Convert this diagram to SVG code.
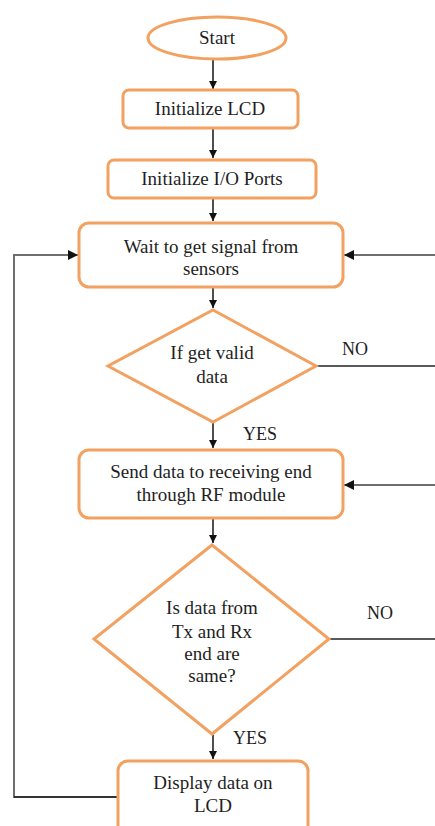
<svg xmlns="http://www.w3.org/2000/svg" width="435" height="826" viewBox="0 0 435 826">
  <defs>
    <style>
      .shape { fill: #ffffff; stroke: #f2a160; stroke-width: 3; }
      .label { font-family: "Liberation Serif", "DejaVu Serif", "Times New Roman", serif; font-size: 19px; fill: #1e1e1e; text-anchor: middle; }
      .tag { font-family: "Liberation Serif", "DejaVu Serif", "Times New Roman", serif; font-size: 18px; fill: #1e1e1e; }
      .flow { fill: none; stroke: #222222; stroke-width: 1.6; }
      .loop { fill: none; stroke: #6e6e6e; stroke-width: 2; }
    </style>
    <marker id="arrow" viewBox="0 0 10 10" refX="10" refY="5" markerWidth="8" markerHeight="8" orient="auto" markerUnits="userSpaceOnUse">
      <path d="M0,0 L10,5 L0,10 z" fill="#111111"/>
    </marker>
    <marker id="arrowL" viewBox="0 0 10 10" refX="10" refY="5" markerWidth="11" markerHeight="10" orient="auto" markerUnits="userSpaceOnUse">
      <path d="M0,0 L10,5 L0,10 z" fill="#111111"/>
    </marker>
  </defs>

  <rect width="435" height="826" fill="#ffffff"/>

  <g id="connectors">
    <line class="flow" x1="213" y1="60" x2="213" y2="89" marker-end="url(#arrow)"/>
    <line class="flow" x1="213" y1="129" x2="213" y2="158" marker-end="url(#arrow)"/>
    <line class="flow" x1="213" y1="199" x2="213" y2="221" marker-end="url(#arrow)"/>
    <line class="flow" x1="213" y1="288" x2="213" y2="308" marker-end="url(#arrow)"/>
    <line class="flow" x1="213" y1="423" x2="213" y2="448" marker-end="url(#arrow)"/>
    <line class="flow" x1="213" y1="519" x2="213" y2="543" marker-end="url(#arrow)"/>
    <line class="flow" x1="213" y1="735" x2="213" y2="759" marker-end="url(#arrow)"/>
    <!-- NO branches running off to the right edge -->
    <line class="flow" x1="316" y1="366" x2="435" y2="366"/>
    <line class="flow" x1="330" y1="639" x2="435" y2="639"/>
    <!-- returns entering from the right edge -->
    <line class="loop" x1="435" y1="255" x2="344" y2="255" marker-end="url(#arrowL)"/>
    <line class="loop" x1="435" y1="485" x2="344" y2="485" marker-end="url(#arrowL)"/>
    <!-- loop back from display to waiting -->
    <polyline class="loop" points="117,797 14,797 14,255 78,255" marker-end="url(#arrowL)"/>
    <line class="flow" x1="14" y1="797" x2="117" y2="797"/>
  </g>

  <g id="start">
    <ellipse class="shape" cx="217" cy="38" rx="69" ry="21"/>
    <text class="label" x="217" y="44">Start</text>
  </g>

  <g id="init-lcd">
    <rect class="shape" x="123" y="90" width="175" height="38" rx="6"/>
    <text class="label" x="210" y="115">Initialize LCD</text>
  </g>

  <g id="init-io">
    <rect class="shape" x="108" y="160" width="208" height="38" rx="6"/>
    <text class="label" x="212" y="185">Initialize I/O Ports</text>
  </g>

  <g id="wait-signal">
    <rect class="shape" x="79" y="223" width="264" height="64" rx="10"/>
    <text class="label" x="211" y="253">Wait to get signal from</text>
    <text class="label" x="211" y="275">sensors</text>
  </g>

  <g id="valid-check">
    <polygon class="shape" points="213,310 316,366 213,422 108,366"/>
    <text class="label" x="212" y="359">If get valid</text>
    <text class="label" x="212" y="383">data</text>
  </g>

  <g id="send-rf">
    <rect class="shape" x="79" y="450" width="264" height="68" rx="10"/>
    <text class="label" x="211" y="478">Send data to receiving end</text>
    <text class="label" x="211" y="501">through RF module</text>
  </g>

  <g id="compare-check">
    <polygon class="shape" points="212,545 329,639 212,734 94,639"/>
    <text class="label" x="212" y="614">Is data from</text>
    <text class="label" x="212" y="638">Tx and Rx</text>
    <text class="label" x="212" y="660">end are</text>
    <text class="label" x="212" y="682">same?</text>
  </g>

  <g id="display">
    <rect class="shape" x="118" y="761" width="190" height="80" rx="10"/>
    <text class="label" x="213" y="789">Display data on</text>
    <text class="label" x="213" y="812">LCD</text>
  </g>

  <g id="branch-labels">
    <text class="tag" x="342" y="355">NO</text>
    <text class="tag" x="243" y="440">YES</text>
    <text class="tag" x="367" y="619">NO</text>
    <text class="tag" x="233" y="744">YES</text>
  </g>
</svg>
